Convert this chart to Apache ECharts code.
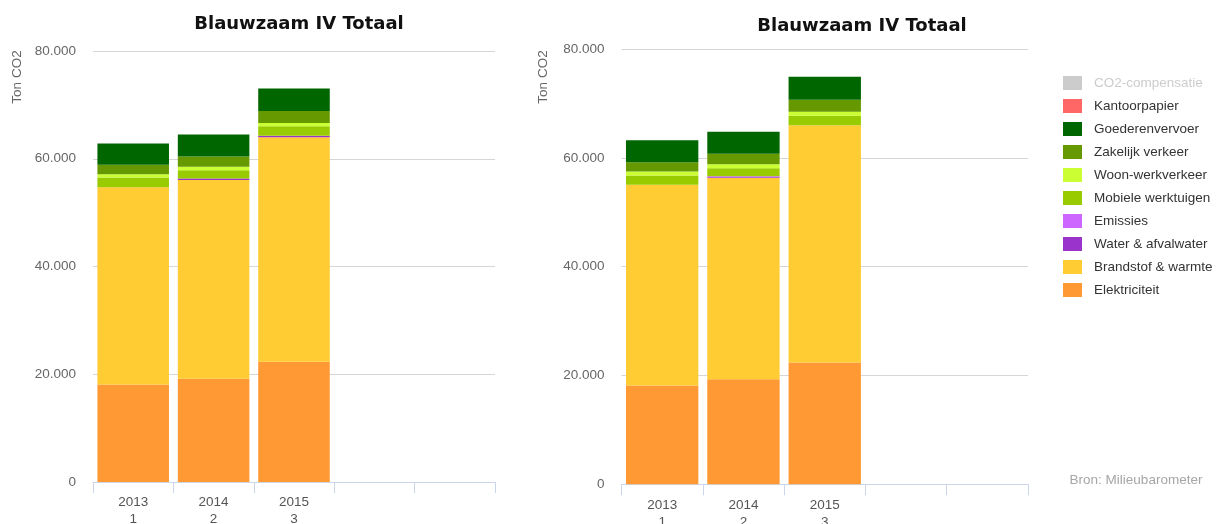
<!DOCTYPE html>
<html>
<head>
<meta charset="utf-8">
<script src="https://cdn.jsdelivr.net/npm/echarts@6/dist/echarts.min.js"></script>
<style>
html,body{margin:0;padding:0;background:#fff;}
#chart{width:1221px;height:524px;}
</style>
</head>
<body>
<div id="chart"></div>
<script>
// ---- DATA ----
const categories = ['2013', '2014', '2015', '', ''];
const subLabels = ['1', '2', '3', '', ''];
const yTicks = [0, 20000, 40000, 60000, 80000];
const seriesNames = ['Elektriciteit', 'Brandstof & warmte', 'Water & afvalwater', 'Emissies',
  'Mobiele werktuigen', 'Woon-werkverkeer', 'Zakelijk verkeer', 'Goederenvervoer',
  'Kantoorpapier', 'CO2-compensatie'];
const seriesColors = ['#ff9933', '#ffcc33', '#9933cc', '#cc66ff', '#99cc00', '#ccff33',
  '#669900', '#006600', '#ff6666', '#cccccc'];

// left panel (Ton CO2)
const elektriciteitA = [18100, 19150, 22300];
const brandstofA = [36600, 36900, 41700];
const waterA = [0, 300, 250];
const emissiesA = [0, 0, 0];
const mobieleA = [1800, 1500, 1800];
const woonA = [600, 650, 600];
const zakelijkA = [1800, 1900, 2200];
const goederenA = [3950, 4100, 4200];
const kantoorA = [0, 0, 0];
const compensatieA = [0, 0, 0];

// right panel (Ton CO2)
const elektriciteitB = [18150, 19300, 22400];
const brandstofB = [36900, 37000, 43600];
const waterB = [0, 150, 0];
const emissiesB = [0, 150, 0];
const mobieleB = [1700, 1480, 1720];
const woonB = [750, 740, 740];
const zakelijkB = [1700, 1920, 2220];
const goederenB = [4050, 4060, 4240];
const kantoorB = [0, 0, 0];
const compensatieB = [0, 0, 0];

const panelA = [elektriciteitA, brandstofA, waterA, emissiesA, mobieleA, woonA, zakelijkA, goederenA, kantoorA, compensatieA];
const panelB = [elektriciteitB, brandstofB, waterB, emissiesB, mobieleB, woonB, zakelijkB, goederenB, kantoorB, compensatieB];

// ---- CHART ----
const FONT = '"Liberation Sans", Arial, sans-serif';
const fmt = v => String(v).replace(/\B(?=(\d{3})+(?!\d))/g, '.');
const catData = categories.map((c, i) => c ? c + '\n' + subLabels[i] : '');

function xAxisFor(gi) {
  return {
    type: 'category', gridIndex: gi, data: catData,
    axisLine: {show: true, lineStyle: {color: '#ccd6eb', width: 1}},
    axisTick: {show: true, length: 11, lineStyle: {color: '#ccd6eb'}},
    axisLabel: {interval: 0, margin: 12, fontSize: 13.5, lineHeight: 17, color: '#555', fontFamily: FONT},
    splitLine: {show: false}
  };
}
function yAxisFor(gi) {
  return {
    type: 'value', gridIndex: gi, min: yTicks[0], max: yTicks[yTicks.length - 1],
    interval: yTicks[1] - yTicks[0],
    axisLine: {show: false}, axisTick: {show: false},
    axisLabel: {formatter: fmt, fontSize: 13.5, color: '#666', margin: 17, fontFamily: FONT, padding: [10, 0, 0, 0]},
    splitLine: {show: true, lineStyle: {color: '#d6d6d6', width: 1}}
  };
}

const series = [];
[panelA, panelB].forEach((panel, pi) => {
  panel.forEach((vals, si) => {
    series.push({
      name: seriesNames[si], type: 'bar', stack: 'p' + pi,
      xAxisIndex: pi, yAxisIndex: pi, data: vals,
      barCategoryGap: '11%',
      itemStyle: {color: seriesColors[si]},
      emphasis: {disabled: true}
    });
  });
});

const selected = {};
selected['CO2-compensatie'] = false;

const chart = echarts.init(document.getElementById('chart'), null, {renderer: 'canvas'});
chart.setOption({
  animation: false,
  backgroundColor: '#fff',
  grid: [
    {left: 93, top: 51, width: 402, height: 431, containLabel: false, outerBoundsMode: 'none'},
    {left: 621.5, top: 49, width: 406.5, height: 435.3, containLabel: false, outerBoundsMode: 'none'}
  ],
  xAxis: [xAxisFor(0), xAxisFor(1)],
  yAxis: [yAxisFor(0), yAxisFor(1)],
  legend: {
    orient: 'vertical', left: 1058, top: 71,
    data: seriesNames.slice().reverse(),
    selected: selected,
    icon: 'rect', itemWidth: 19, itemHeight: 14, itemGap: 9,
    inactiveColor: '#cccccc',
    textStyle: {fontSize: 13.5, color: '#333', fontFamily: FONT, padding: [0, 0, 0, 7]},
    selectedMode: false
  },
  graphic: [
    {type: 'text', x: 299, y: 24, style: {text: 'Blauwzaam IV Totaal', font: 'bold 18px "DejaVu Sans", sans-serif', fill: '#111', textAlign: 'center', textVerticalAlign: 'middle', align: 'center', verticalAlign: 'middle'}},
    {type: 'text', x: 862, y: 26, style: {text: 'Blauwzaam IV Totaal', font: 'bold 18px "DejaVu Sans", sans-serif', fill: '#111', textAlign: 'center', textVerticalAlign: 'middle', align: 'center', verticalAlign: 'middle'}},
    {type: 'text', x: 17, y: 77, rotation: Math.PI / 2, style: {text: 'Ton CO2', font: '13.5px "Liberation Sans", Arial, sans-serif', fill: '#666', textAlign: 'center', textVerticalAlign: 'middle', align: 'center', verticalAlign: 'middle'}},
    {type: 'text', x: 543.5, y: 77, rotation: Math.PI / 2, style: {text: 'Ton CO2', font: '13.5px "Liberation Sans", Arial, sans-serif', fill: '#666', textAlign: 'center', textVerticalAlign: 'middle', align: 'center', verticalAlign: 'middle'}},
    {type: 'text', x: 1136, y: 480.5, style: {text: 'Bron: Milieubarometer', font: '13.5px "Liberation Sans", Arial, sans-serif', fill: '#a6a6a6', textAlign: 'center', textVerticalAlign: 'middle', align: 'center', verticalAlign: 'middle'}}
  ],
  series: series
});
</script>
</body>
</html>
